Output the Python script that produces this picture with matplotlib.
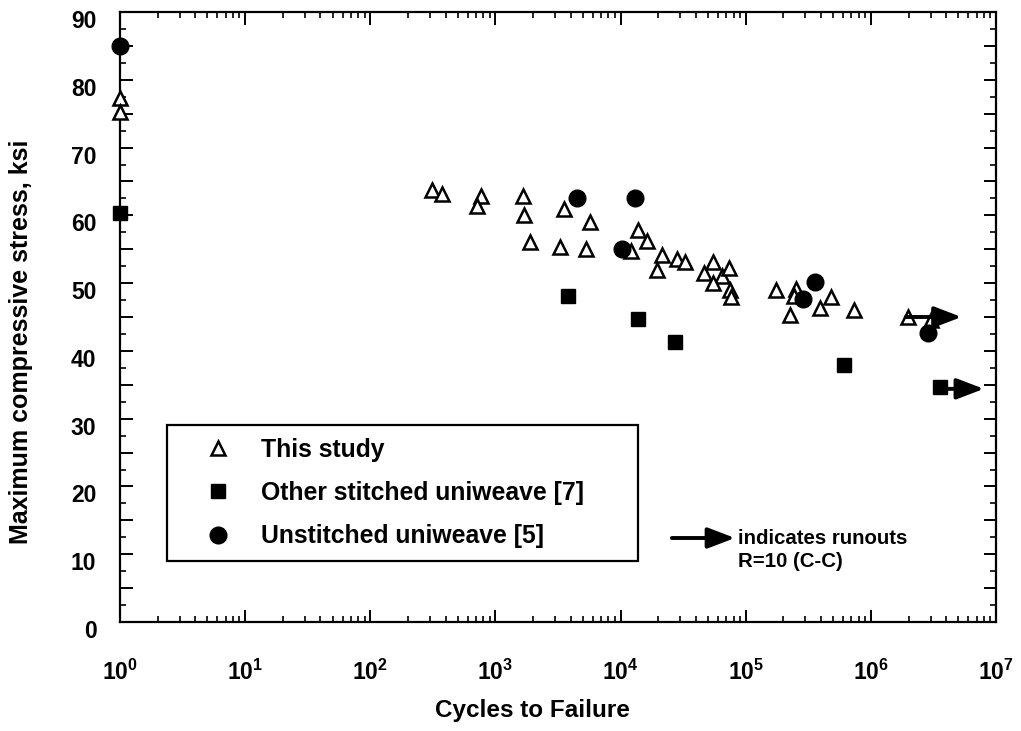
import numpy as np
import matplotlib
matplotlib.use("Agg")
import matplotlib.pyplot as plt
from matplotlib.ticker import MultipleLocator, FuncFormatter, FixedLocator, NullFormatter
import matplotlib.transforms as mtransforms

plt.rcParams['font.family'] = ['Liberation Sans', 'DejaVu Sans']
plt.rcParams['font.weight'] = 'bold'
plt.rcParams['mathtext.fontset'] = 'custom'
plt.rcParams['mathtext.rm'] = 'Liberation Sans:bold'
plt.rcParams['mathtext.bf'] = 'Liberation Sans:bold'
plt.rcParams['mathtext.it'] = 'Liberation Sans:bold'

# ---- data ----
study_cycles = [1, 1, 312, 374, 773, 714, 1665, 1706, 1872, 3270, 3543, 5250, 5690,
                13760, 16340, 12020, 21540, 19410, 28050, 32510, 46430, 55100, 65060,
                54740, 73600, 74900, 76850, 174800, 251000, 243600, 226300, 478600,
                393400, 735900, 1.99e6, 3.02e6]
study_stress = [77.3, 75.3, 63.7, 63.1, 62.9, 61.4, 62.8, 60.0, 56.0, 55.3, 60.9, 55.0, 58.95,
                57.9, 56.2, 54.8, 54.2, 52.0, 53.5, 53.05, 51.5, 53.1, 51.0,
                49.95, 52.2, 49.0, 47.9, 49.0, 49.2, 48.1, 45.3, 48.0,
                46.3, 46.1, 45.0, 44.6]

stitched_cycles = [1, 3814, 13770, 27200, 612000, 3.59e6]
stitched_stress = [60.3, 48.1, 44.7, 41.3, 37.9, 34.6]

unstitched_cycles = [1, 4500, 13020, 10240, 356500, 289300, 2.876e6]
unstitched_stress = [85.0, 62.6, 62.6, 55.1, 50.1, 47.6, 42.7]

runout_start = [1.9e6, 3.59e6]
runout_end = [5.3e6, 8.0e6]
runout_stress = [45.0, 34.4]

x_decades = [0, 1, 2, 3, 4, 5, 6, 7]
legend_labels = ["This study", "Other stitched uniweave [7]", "Unstitched uniweave [5]"]
xlabel = "Cycles to Failure"
ylabel = "Maximum compressive stress, ksi"

# ---- figure ----
fig = plt.figure(figsize=(10.21, 7.31), dpi=100)
ax = fig.add_axes([120/1021, 1 - 622/731, 876/1021, 610/731])

ax.set_xscale('log')
ax.set_xlim(1, 1e7)
ax.set_ylim(0, 90)

h1, = ax.plot(study_cycles, study_stress, linestyle='none', marker='^', ms=9.5,
              mfc='white', mec='black', mew=1.8, clip_on=False, zorder=3,
              label=legend_labels[0])
h2, = ax.plot(stitched_cycles, stitched_stress, linestyle='none', marker='s', ms=10,
              mfc='black', mec='black', clip_on=False, zorder=4,
              label=legend_labels[1])
h3, = ax.plot(unstitched_cycles, unstitched_stress, linestyle='none', marker='o', ms=12,
              mfc='black', mec='black', clip_on=False, zorder=4,
              label=legend_labels[2])

arrowprops = dict(arrowstyle='-|>,head_length=1.1,head_width=0.42', lw=2.8,
                  color='black', shrinkA=0, shrinkB=0, mutation_scale=15)
for xs, xe, ys in zip(runout_start, runout_end, runout_stress):
    ax.annotate('', xy=(xe, ys), xytext=(xs, ys), arrowprops=arrowprops, zorder=5,
                annotation_clip=False)

# runout key
ax.annotate('', xy=(0.702, 0.1377), xytext=(0.630, 0.1377), xycoords='axes fraction',
            textcoords='axes fraction', arrowprops=arrowprops)
ax.text(0.7055, 0.1377, "indicates runouts", transform=ax.transAxes, fontsize=14.7,
        fontweight='bold', ha='left', va='center')
ax.text(0.7055, 0.0984, "R=10 (C-C)", transform=ax.transAxes, fontsize=14.7,
        fontweight='bold', ha='left', va='center')

# legend
leg = ax.legend(handles=[h1, h2, h3], loc='upper left',
                bbox_to_anchor=(47/876, (622-425)/610, 471/876, 0), mode='expand',
                borderaxespad=0, frameon=True, fancybox=False,
                edgecolor='black', framealpha=1, borderpad=0.52, labelspacing=0.78,
                handlelength=3.1, handletextpad=0.2, prop={'weight': 'bold', 'size': 17.8})
leg.get_frame().set_linewidth(1.6)

# axes styling
for sp in ax.spines.values():
    sp.set_linewidth(1.6)

ax.yaxis.set_major_locator(MultipleLocator(5))
ax.yaxis.set_minor_locator(MultipleLocator(2.5))
ax.yaxis.set_major_formatter(FuncFormatter(lambda v, p: f"{int(round(v))}" if round(v) % 10 == 0 else ""))

major_x = [10.0 ** d for d in x_decades]
minor_x = [m * 10.0 ** d for d in x_decades[:-1] for m in range(2, 10)]
ax.xaxis.set_major_locator(FixedLocator(major_x))
ax.xaxis.set_minor_locator(FixedLocator(minor_x))
ax.xaxis.set_minor_formatter(NullFormatter())
ax.xaxis.set_major_formatter(FuncFormatter(lambda v, p: r"$\mathrm{10^{%d}}$" % int(round(np.log10(v)))))

ax.tick_params(which='major', direction='in', length=9, width=1.4, top=True, right=True)
ax.tick_params(which='minor', direction='in', length=4.5, width=1.2, top=True, right=True)
ax.tick_params(axis='y', which='major', labelsize=16.5, pad=17)
ax.tick_params(axis='x', which='major', labelsize=16.5, pad=27)

off = mtransforms.ScaledTranslation(0, -7/100, fig.dpi_scale_trans)
for lab in ax.get_yticklabels():
    lab.set_transform(lab.get_transform() + off)
    lab.set_fontweight('bold')

ax.set_xlabel(xlabel, fontsize=17.5, fontweight='bold')
ax.xaxis.set_label_coords((532-120)/876, -(699-622)/610)
ax.set_ylabel(ylabel, fontsize=18, fontweight='bold')
ax.yaxis.set_label_coords(-(120-33)/876, (622-342)/610)

fig.savefig("out.png", dpi=100)
